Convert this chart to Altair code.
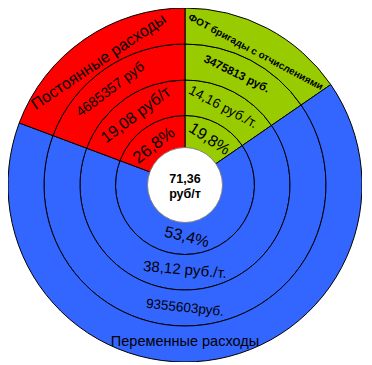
import altair as alt
import pandas as pd

categories = ["ФОТ бригады  с отчислениями", "Переменные расходы", "Постоянные расходы"]
colors = ["#99CC00", "#3366FF", "#FF0000"]
shares = [15.4, 65.3, 19.3]
order = [1, 2, 3]
rings = [1, 2, 3, 4]

# Labels: text, position angle (deg, clockwise from top), radius (ref px), rotation, font size, bold
label_text = ["26,8%", "19,08 руб/т", "4685357 руб", "Постоянные расходы",
              "19,8%", "14,16 руб./т.", "3475813 руб.", "ФОТ бригады  с отчислениями",
              "53,4%", "38,12 руб./т.", "9355603руб.", "Переменные расходы",
              "71,36", "руб/т"]
label_theta = [322, 325, 322, 325, 28, 26, 25, 28, 178, 180, 180, 180, 0, 180]
label_r = [51, 87, 123, 153, 53, 88, 124, 153, 53, 86, 125, 160, 6, 9]
label_rot = [322, 323, 323, 326, 33, 28, 26, 28, 14, 5, 6, 0, 0, 0]
label_size = [17, 16, 14, 16, 16, 13.5, 11.5, 10, 16, 15, 13.5, 14.5, 12.5, 12.5]
label_bold = [False, False, False, False, False, False, True, True,
              False, False, False, False, True, True]

seg = pd.DataFrame({
    "cat": categories,
    "share": shares,
    "ord": order,
})

lab = pd.DataFrame({
    "text": label_text,
    "pos": [t / 3.6 for t in label_theta],
    "r": label_r,
    "rot": label_rot,
    "size": label_size,
    "bold": label_bold,
})

theta_scale = alt.Scale(domain=[0, 100])
radius_scale = alt.Scale(type="linear", domain=[0, 180], range=[0, 177], zero=True)
color_scale = alt.Scale(domain=categories, range=colors)

# ring radii (outer, inner) in pixels
ring_radii = {1: (69.5, 33.5), 2: (105, 69.5), 3: (141, 105), 4: (177, 141)}

layers = []
for ring in rings:
    outer, inner = ring_radii[ring]
    layers.append(
        alt.Chart(seg).mark_arc(radius=outer, radius2=inner, stroke="black", strokeWidth=1).encode(
            theta=alt.Theta("share:Q", stack=True, scale=theta_scale),
            color=alt.Color("cat:N", scale=color_scale, legend=None),
            order=alt.Order("ord:Q"),
        )
    )

hole = pd.DataFrame({"v": [100]})
layers.append(
    alt.Chart(hole).mark_arc(radius=37.5, fill="white", stroke="#7f7f7f", strokeWidth=1).encode(
        theta=alt.Theta("v:Q", stack=True, scale=theta_scale),
    )
)

for bold in [False, True]:
    layers.append(
        alt.Chart(lab).transform_filter(
            alt.datum.bold == bold
        ).mark_text(
            font="Liberation Sans",
            fontWeight="bold" if bold else "normal",
            color="black",
            align="center",
            baseline="middle",
        ).encode(
            theta=alt.Theta("pos:Q", scale=theta_scale),
            radius=alt.Radius("r:Q", scale=radius_scale),
            text="text:N",
            angle=alt.Angle("rot:Q", scale=None),
            size=alt.Size("size:Q", scale=None),
        )
    )

chart = alt.layer(*layers).properties(
    width=354,
    height=354,
    padding=0,
    autosize=alt.AutoSizeParams(type="none"),
    background="white",
).configure_view(stroke=None)

chart.save("out.html", embed_options={"renderer": "svg", "actions": False})
